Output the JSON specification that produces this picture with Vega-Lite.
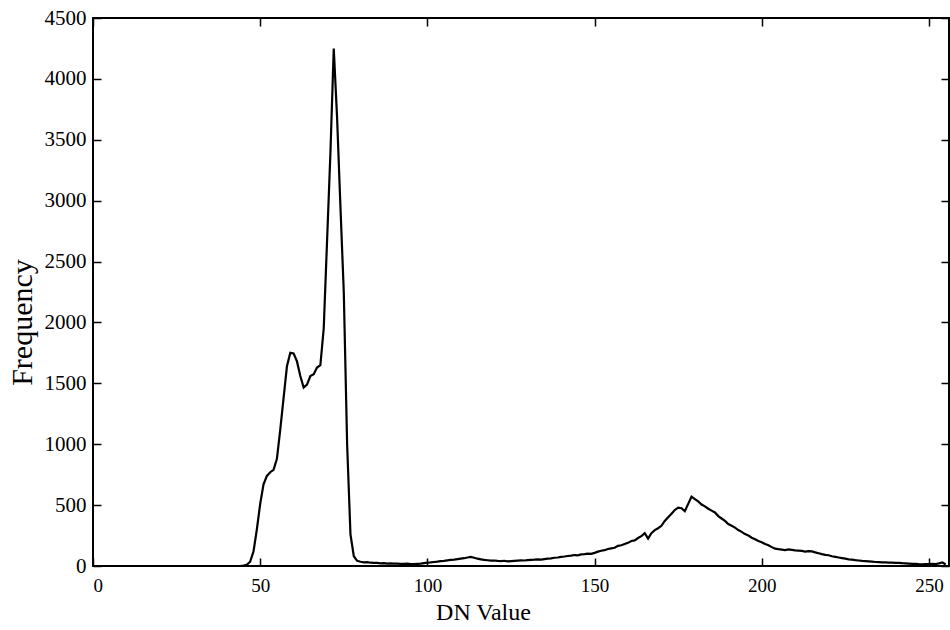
{
  "$schema": "https://vega.github.io/schema/vega-lite/v6.json",
  "width": 856,
  "height": 548,
  "autosize": "none",
  "padding": {"left": 93, "top": 18, "right": 1, "bottom": 64},
  "background": "white",
  "config": {
    "view": {"stroke": "black", "strokeWidth": 2},
    "font": "Liberation Serif",
    "axis": {
      "grid": false,
      "domain": false,
      "tickColor": "black",
      "tickWidth": 1.5,
      "tickSize": 8,
      "offset": -8,
      "format": "d",
      "labelColor": "black",
      "labelFont": "Liberation Serif",
      "labelFontSize": 19,
      "titleFont": "Liberation Serif",
      "titleFontWeight": "normal",
      "titleColor": "black"
    }
  },
  "datasets": {
    "h": [
      {"dn":28,"freq":0},{"dn":29,"freq":0},{"dn":30,"freq":0},{"dn":31,"freq":0},{"dn":32,"freq":0},{"dn":33,"freq":0},{"dn":34,"freq":0},{"dn":35,"freq":0},{"dn":36,"freq":0},{"dn":37,"freq":0},{"dn":38,"freq":0},{"dn":39,"freq":0},{"dn":40,"freq":0},{"dn":41,"freq":0},{"dn":42,"freq":0},{"dn":43,"freq":0},{"dn":44,"freq":0},
      {"dn":45,"freq":3},{"dn":46,"freq":10},{"dn":47,"freq":35},{"dn":48,"freq":120},{"dn":49,"freq":300},{"dn":50,"freq":510},{"dn":51,"freq":670},{"dn":52,"freq":740},{"dn":53,"freq":770},{"dn":54,"freq":790},{"dn":55,"freq":880},{"dn":56,"freq":1120},{"dn":57,"freq":1380},{"dn":58,"freq":1640},{"dn":59,"freq":1750},{"dn":60,"freq":1745},{"dn":61,"freq":1680},{"dn":62,"freq":1560},{"dn":63,"freq":1465},{"dn":64,"freq":1490},{"dn":65,"freq":1560},{"dn":66,"freq":1575},{"dn":67,"freq":1630},{"dn":68,"freq":1650},{"dn":69,"freq":1950},{"dn":70,"freq":2670},{"dn":71,"freq":3390},{"dn":72,"freq":4250},{"dn":73,"freq":3680},{"dn":74,"freq":2950},{"dn":75,"freq":2250},{"dn":76,"freq":1000},{"dn":77,"freq":260},{"dn":78,"freq":80},{"dn":79,"freq":42},
      {"dn":80,"freq":35},{"dn":81,"freq":30},{"dn":82,"freq":32},{"dn":83,"freq":27},{"dn":84,"freq":25},{"dn":85,"freq":26},{"dn":86,"freq":22},{"dn":87,"freq":24},{"dn":88,"freq":20},{"dn":89,"freq":21},{"dn":90,"freq":19},{"dn":91,"freq":20},{"dn":92,"freq":18},{"dn":93,"freq":17},{"dn":94,"freq":19},{"dn":95,"freq":16},{"dn":96,"freq":15},{"dn":97,"freq":18},{"dn":98,"freq":20},{"dn":99,"freq":24},
      {"dn":100,"freq":28},{"dn":101,"freq":30},{"dn":102,"freq":33},{"dn":103,"freq":36},{"dn":104,"freq":40},{"dn":105,"freq":42},{"dn":106,"freq":46},{"dn":107,"freq":50},{"dn":108,"freq":52},{"dn":109,"freq":56},{"dn":110,"freq":60},{"dn":111,"freq":64},{"dn":112,"freq":70},{"dn":113,"freq":75},{"dn":114,"freq":68},{"dn":115,"freq":60},{"dn":116,"freq":55},{"dn":117,"freq":50},{"dn":118,"freq":47},{"dn":119,"freq":44},
      {"dn":120,"freq":45},{"dn":121,"freq":42},{"dn":122,"freq":40},{"dn":123,"freq":43},{"dn":124,"freq":38},{"dn":125,"freq":40},{"dn":126,"freq":42},{"dn":127,"freq":44},{"dn":128,"freq":46},{"dn":129,"freq":45},{"dn":130,"freq":48},{"dn":131,"freq":50},{"dn":132,"freq":52},{"dn":133,"freq":55},{"dn":134,"freq":53},{"dn":135,"freq":57},{"dn":136,"freq":60},{"dn":137,"freq":63},{"dn":138,"freq":68},{"dn":139,"freq":70},
      {"dn":140,"freq":75},{"dn":141,"freq":78},{"dn":142,"freq":82},{"dn":143,"freq":85},{"dn":144,"freq":90},{"dn":145,"freq":88},{"dn":146,"freq":95},{"dn":147,"freq":98},{"dn":148,"freq":102},{"dn":149,"freq":100},{"dn":150,"freq":108},{"dn":151,"freq":118},{"dn":152,"freq":125},{"dn":153,"freq":130},{"dn":154,"freq":140},{"dn":155,"freq":145},{"dn":156,"freq":150},{"dn":157,"freq":165},{"dn":158,"freq":170},{"dn":159,"freq":180},
      {"dn":160,"freq":190},{"dn":161,"freq":205},{"dn":162,"freq":210},{"dn":163,"freq":230},{"dn":164,"freq":245},{"dn":165,"freq":270},{"dn":166,"freq":225},{"dn":167,"freq":270},{"dn":168,"freq":295},{"dn":169,"freq":310},{"dn":170,"freq":330},{"dn":171,"freq":370},{"dn":172,"freq":400},{"dn":173,"freq":430},{"dn":174,"freq":460},{"dn":175,"freq":480},{"dn":176,"freq":475},{"dn":177,"freq":450},{"dn":178,"freq":510},{"dn":179,"freq":570},
      {"dn":180,"freq":550},{"dn":181,"freq":530},{"dn":182,"freq":505},{"dn":183,"freq":490},{"dn":184,"freq":470},{"dn":185,"freq":455},{"dn":186,"freq":440},{"dn":187,"freq":410},{"dn":188,"freq":390},{"dn":189,"freq":370},{"dn":190,"freq":345},{"dn":191,"freq":330},{"dn":192,"freq":315},{"dn":193,"freq":295},{"dn":194,"freq":280},{"dn":195,"freq":262},{"dn":196,"freq":250},{"dn":197,"freq":232},{"dn":198,"freq":220},{"dn":199,"freq":205},
      {"dn":200,"freq":195},{"dn":201,"freq":180},{"dn":202,"freq":170},{"dn":203,"freq":155},{"dn":204,"freq":142},{"dn":205,"freq":138},{"dn":206,"freq":135},{"dn":207,"freq":130},{"dn":208,"freq":136},{"dn":209,"freq":132},{"dn":210,"freq":128},{"dn":211,"freq":126},{"dn":212,"freq":124},{"dn":213,"freq":118},{"dn":214,"freq":122},{"dn":215,"freq":120},{"dn":216,"freq":112},{"dn":217,"freq":105},{"dn":218,"freq":98},{"dn":219,"freq":92},
      {"dn":220,"freq":88},{"dn":221,"freq":80},{"dn":222,"freq":75},{"dn":223,"freq":70},{"dn":224,"freq":65},{"dn":225,"freq":60},{"dn":226,"freq":55},{"dn":227,"freq":52},{"dn":228,"freq":48},{"dn":229,"freq":45},{"dn":230,"freq":42},{"dn":231,"freq":40},{"dn":232,"freq":38},{"dn":233,"freq":36},{"dn":234,"freq":33},{"dn":235,"freq":32},{"dn":236,"freq":30},{"dn":237,"freq":30},{"dn":238,"freq":28},{"dn":239,"freq":27},
      {"dn":240,"freq":25},{"dn":241,"freq":25},{"dn":242,"freq":23},{"dn":243,"freq":22},{"dn":244,"freq":20},{"dn":245,"freq":18},{"dn":246,"freq":17},{"dn":247,"freq":15},{"dn":248,"freq":14},{"dn":249,"freq":15},{"dn":250,"freq":16},{"dn":251,"freq":18},{"dn":252,"freq":15},{"dn":253,"freq":22},{"dn":254,"freq":30},{"dn":255,"freq":12}
    ]
  },
  "data": {"name": "h"},
  "layer": [
    {
      "mark": {"type": "line", "color": "black", "strokeWidth": 2.2, "clip": true},
      "encoding": {
        "x": {
          "field": "dn", "type": "quantitative",
          "scale": {"domain": [0, 256], "nice": false, "zero": false},
          "axis": {"orient": "bottom", "values": [0, 50, 100, 150, 200, 250], "title": "DN Value", "titleFontSize": 24, "labelFont": "Liberation Serif", "labelPadding": 10, "titleX": 390, "titlePadding": 5}
        },
        "y": {
          "field": "freq", "type": "quantitative",
          "scale": {"domain": [0, 4500], "nice": false},
          "axis": {"orient": "left", "values": [0, 500, 1000, 1500, 2000, 2500, 3000, 3500, 4000, 4500], "title": "Frequency", "titleFontSize": 30, "labelFont": "Liberation Serif", "labelFontSize": 21, "labelPadding": 7, "titleY": 304, "titleX": -64}
        }
      }
    },
    {
      "mark": {"type": "line", "strokeOpacity": 0},
      "encoding": {
        "x": {
          "field": "dn", "type": "quantitative",
          "axis": {"orient": "top", "values": [0, 50, 100, 150, 200, 250], "labels": false, "title": null}
        },
        "y": {
          "field": "freq", "type": "quantitative",
          "axis": {"orient": "right", "values": [0, 500, 1000, 1500, 2000, 2500, 3000, 3500, 4000, 4500], "labels": false, "title": null}
        }
      }
    }
  ],
  "resolve": {"axis": {"x": "independent", "y": "independent"}}
}
